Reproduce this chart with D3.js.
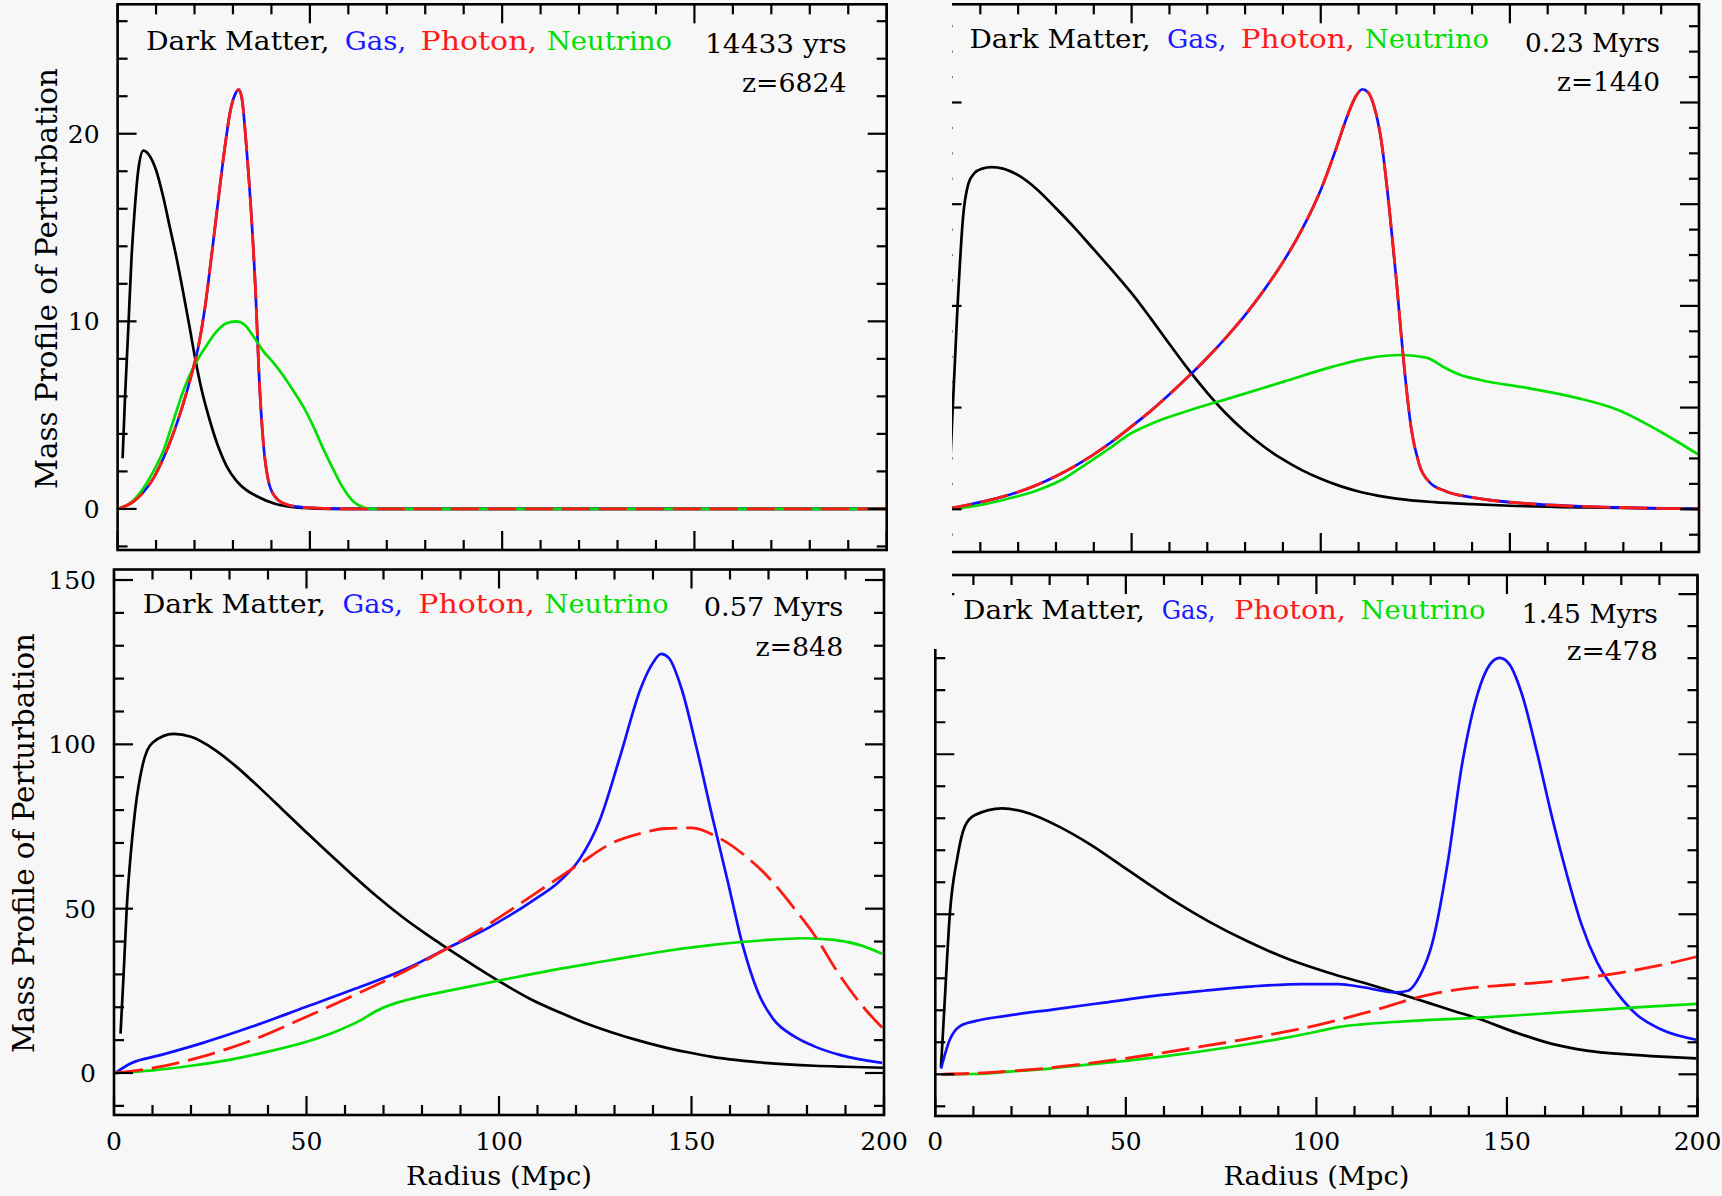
<!DOCTYPE html>
<html><head><meta charset="utf-8">
<script src="https://cdn.jsdelivr.net/npm/d3@7"></script>
<style>
html,body{margin:0;padding:0;background:#f7f7f7;}
svg{display:block;}
text{font-family:"DejaVu Serif","Liberation Serif",serif;}
</style></head><body>
<svg id="chart" width="1722" height="1196"></svg>
<script>
// ---------------- DATA ----------------
const seriesNames = ["Dark Matter,", "Gas,", "Photon,", "Neutrino"];
const timeLabels = ["14433 yrs", "0.23 Myrs", "0.57 Myrs", "1.45 Myrs"];
const redshiftLabels = ["z=6824", "z=1440", "z=848", "z=478"];
const xTickValues = [0, 50, 100, 150, 200];
const xTickLabels = ["0", "50", "100", "150", "200"];
const tlYTickLabels = ["0", "10", "20"];
const blYTickLabels = ["0", "50", "100", "150"];
const xTitle = "Radius (Mpc)";
const yTitle = "Mass Profile of Perturbation";

// Panel 1: 14433 yrs, z=6824  [radius (Mpc), mass profile]
const tlDarkMatter = [[1.3,2.7],[1.9,5.8],[2.8,9.7],[3.6,13.3],[4.5,16.1],[5.4,18.1],[6.7,19.1],[8.4,18.8],[10.1,18.0],[11.9,16.6],[13.6,15.0],[15.3,13.4],[17.1,11.5],[18.8,9.6],[20.1,8.1],[21.8,6.4],[24.0,4.7],[26.2,3.3],[28.3,2.3],[30.9,1.5],[33.5,1.0],[36.1,0.69],[40.5,0.3],[45.7,0.09],[51.7,0.02],[58.7,0],[200,0]];
const tlGas = [[0.6,0.04],[4.1,0.39],[6.7,0.89],[9.3,1.63],[11.9,2.7],[14.5,4.03],[17.1,5.63],[19.2,7.14],[21.0,8.65],[22.7,10.7],[24.4,13.45],[26.2,16.5],[27.9,19.3],[29.4,21.3],[30.8,22.2],[31.5,22.35],[32.3,21.9],[33.5,19.3],[34.8,15.6],[35.9,11.5],[36.8,7.05],[37.9,3.5],[39.2,1.5],[40.9,0.66],[43.1,0.3],[46.5,0.12],[51.7,0.04],[58.7,0],[200,0]];
const tlPhoton = [[0.6,0.04],[4.1,0.39],[6.7,0.89],[9.3,1.63],[11.9,2.7],[14.5,4.03],[17.1,5.63],[19.2,7.14],[21.0,8.65],[22.7,10.7],[24.4,13.45],[26.2,16.5],[27.9,19.3],[29.4,21.3],[30.8,22.2],[31.5,22.35],[32.3,21.9],[33.5,19.3],[34.8,15.6],[35.9,11.5],[36.8,7.05],[37.9,3.5],[39.2,1.5],[40.9,0.66],[43.1,0.3],[46.5,0.12],[51.7,0.04],[58.7,0],[200,0]];
const tlNeutrino = [[0.6,0.04],[4.1,0.45],[6.7,1.1],[9.3,2.0],[11.9,3.1],[14.5,4.7],[17.1,6.3],[20.1,7.7],[23.1,8.7],[25.7,9.45],[28.3,9.9],[30.9,10.0],[33.1,9.8],[35.3,9.2],[37.9,8.4],[40.5,7.8],[43.1,7.1],[45.7,6.3],[48.3,5.45],[50.9,4.4],[53.5,3.2],[56.1,2.1],[58.7,1.1],[61.3,0.4],[63.9,0.09],[66.5,0],[200,0]];

// Panel 2: 0.23 Myrs, z=1440
const trDarkMatter = [[2.0,8],[2.58,17.9],[3.88,38.5],[5.44,57.5],[6.87,64.1],[8.43,66.1],[10.5,67.0],[13,67.3],[16,67.0],[20,65.7],[25,62.9],[30,59.2],[35,55.3],[40,51.1],[45,46.9],[50,42.5],[55,37.6],[60,32.5],[65,27.5],[70,22.9],[75,18.8],[80,15.3],[85,12.3],[90,9.8],[95,7.7],[100,6.0],[105,4.6],[110,3.5],[115,2.7],[120,2.1],[130,1.4],[140,1.0],[150,0.7],[170,0.35],[200,0.08]];
const trGas = [[0.5,0],[5,0.6],[10,1.4],[15,2.3],[20,3.4],[25,4.8],[30,6.5],[35,8.5],[40,10.8],[45,13.4],[50,16.3],[55,19.3],[60,22.6],[65,26.1],[70,29.8],[75,33.8],[80,38.2],[85,43.1],[90,48.6],[95,55.0],[100,62.8],[104,70.8],[107,77.3],[109.5,81.5],[111,82.6],[112.5,82.0],[114,79.5],[116,72.5],[118,60],[120,45],[121.8,30],[123.9,16],[126,8.9],[128.8,5.3],[132.9,3.6],[141.2,2.2],[155,1.1],[169,0.57],[183,0.28],[200,0.08]];
const trPhoton = [[0.5,0],[5,0.6],[10,1.4],[15,2.3],[20,3.4],[25,4.8],[30,6.5],[35,8.5],[40,10.8],[45,13.4],[50,16.3],[55,19.3],[60,22.6],[65,26.1],[70,29.8],[75,33.8],[80,38.2],[85,43.1],[90,48.6],[95,55.0],[100,62.8],[104,70.8],[107,77.3],[109.5,81.5],[111,82.6],[112.5,82.0],[114,79.5],[116,72.5],[118,60],[120,45],[121.8,30],[123.9,16],[126,8.9],[128.8,5.3],[132.9,3.6],[141.2,2.2],[155,1.1],[169,0.57],[183,0.28],[200,0.08]];
const trNeutrino = [[0.5,0],[2.2,0.05],[12.3,1.18],[18.8,2.36],[25.3,3.8],[31.8,5.9],[37.0,8.39],[43.5,11.66],[50.0,15.0],[56.5,17.23],[65.6,19.53],[77.3,22.15],[90.2,25.1],[103.2,28.05],[112.3,29.69],[121.4,30.34],[127.9,29.82],[133.1,27.72],[137.0,26.41],[142.2,25.43],[155.2,23.79],[168.2,21.82],[178.6,19.53],[189.0,15.6],[200,10.68]];

// Panel 3: 0.57 Myrs, z=848
const blDarkMatter = [[1.7,12],[2.5,30],[3.3,50],[4.3,66],[5.5,80],[7.5,94],[10,100.5],[15.5,103.2],[20,102.3],[26,98.5],[32,93],[38,86.6],[44,79.9],[50,73.2],[56,66.6],[62,60.2],[68,54.0],[75,47.4],[81,42.3],[87,37.6],[94,32.3],[100.5,27.6],[108,22.6],[116,18.3],[122,15.4],[129,12.5],[135,10.3],[142,8.1],[149,6.3],[155,5.0],[162,3.9],[169,3.1],[182,2.2],[190,1.9],[200,1.6]];
const blGas = [[0.3,0],[4.3,2.9],[12.3,5.5],[22.9,9.1],[36.1,14.2],[49.4,19.9],[62.6,25.6],[75.9,31.7],[86.5,37.9],[97.1,44.1],[109,52.6],[115.6,58.2],[120.9,65.0],[126.2,77.0],[131.5,96.5],[136.8,117],[140.2,125.2],[142.1,127.5],[144.1,126.3],[147.4,117],[151.4,98.5],[155.4,78],[159.4,58.4],[163.3,38.9],[167.3,24.5],[171.3,16.3],[176.6,11.2],[181.9,8.1],[188.5,5.5],[199.5,3.1]];
const blPhoton = [[0.3,0],[9.6,1.4],[22.9,5.0],[36.1,10.1],[49.4,16.8],[62.6,23.8],[75.9,31.2],[86.5,37.9],[97.1,45.1],[109,54.3],[120.9,63.6],[128.9,69.7],[136.8,72.9],[143.4,74.4],[150.1,74.6],[156.7,71.8],[163.3,66.7],[170,59.5],[176.6,50.2],[181.9,42.0],[188.5,29.7],[195.1,19.4],[199.8,13.5]];
const blNeutrino = [[0.3,0],[10,0.8],[20,2.2],[30,4.0],[40,6.5],[50,9.5],[58,12.8],[64,16],[68,18.8],[72,20.8],[76,22.2],[89,25.5],[102,28.6],[115.6,31.7],[128.9,34.3],[142,36.9],[155,38.9],[168.6,40.4],[179,41.0],[187,40.5],[193.8,38.9],[199.5,36.3]];

// Panel 4: 1.45 Myrs, z=478
const brDarkMatter = [[1.5,2.3],[2.5,23.5],[3.8,49.9],[5.8,67.8],[7.7,77.3],[10.4,81.0],[17.5,83.1],[24.7,81.5],[32.6,77.3],[40.4,72.0],[50.8,63.6],[61.3,55.2],[71.7,47.8],[82.2,41.4],[92.6,36.0],[103,31.8],[113.5,28.2],[120.7,25.6],[129.2,22.4],[136,19.8],[142.2,17.5],[152.7,12.9],[161.8,9.5],[170.9,7.4],[181.4,6.2],[190.5,5.5],[199.7,5.0]];
const brGas = [[1.5,1.8],[3.8,10.8],[6.4,15.0],[10.4,16.6],[18.2,18.2],[31.2,20.3],[44.3,22.4],[57.4,24.5],[70.4,26.1],[83.5,27.5],[96.5,28.2],[105.7,28.2],[112.2,27.2],[120.7,25.6],[124,26.1],[127.2,30.9],[130.5,41.4],[134.4,65.7],[138.3,97.4],[142.2,118.5],[145.5,128],[148.1,130.1],[150.7,128],[154,118.5],[157.9,100.5],[161.8,80.5],[165.7,62.5],[169.6,46.7],[173.6,35.1],[178.8,25.6],[184,18.7],[190.5,14.0],[199.7,10.8]];
const brPhoton = [[1.5,0],[10,0.3],[20,1.0],[30,2.0],[40,3.4],[50,5.0],[60,6.8],[70,8.7],[80,10.7],[90,12.9],[100,15.3],[110,18.3],[118,21.0],[124,23.2],[130,25.0],[140,26.9],[150,27.9],[160,28.8],[170,30.1],[180,31.8],[190,34.0],[200,36.8]];
const brNeutrino = [[1.5,0],[10,0.1],[20,0.9],[30,1.8],[40,3.0],[50,4.2],[60,5.6],[70,7.2],[80,9.0],[90,11.0],[100,13.3],[106,14.8],[112,15.6],[121,16.4],[130,17.0],[143,17.7],[155,18.6],[170,19.8],[185,21.0],[200,22.0]];

// ---------------- STYLE / LAYOUT ----------------
const seriesColors = ["#000000", "#1010ff", "#ff1a10", "#00e000"];
const textColors = ["#000000", "#1a1aff", "#ff1a1a", "#00e000"];

const panels = [
  {xr:[117.6,886.7], yd:[-2.19,26.9], yr:[550,4.3], yMajor:10, yMinor:2,
   yLabels:tlYTickLabels, xLabels:false, clip:null,
   series:[tlDarkMatter, tlGas, tlPhoton, tlNeutrino],
   legendX:[[146,329.4],[344.8,406.3],[420.5,537],[546.8,672]], legendY:50,
   timeX:[705,846.6], timeY:53, zX:[742,846.6], zY:92, yTitle:{x:57,y:278.6,len:421}},
  {xr:[942.5,1699], yd:[-8.4,99.31], yr:[552,4.3], yMajor:20, yMinor:5,
   yLabels:null, xLabels:false, clip:"rect",
   series:[trDarkMatter, trGas, trPhoton, trNeutrino],
   legendX:[[969.5,1150.7],[1167,1226.5],[1240.7,1355],[1364.8,1489]], legendY:48.2,
   timeX:[1525,1660], timeY:51.8, zX:[1557,1660], zY:91, yTitle:null},
  {xr:[114,884], yd:[-12.78,153.2], yr:[1115,569.5], yMajor:50, yMinor:10,
   yLabels:blYTickLabels, xLabels:true, clip:null,
   series:[blDarkMatter, blGas, blPhoton, blNeutrino],
   legendX:[[142.7,326],[342.6,403],[418.3,534.7],[544.6,668.7]], legendY:613.4,
   timeX:[703.8,843.3], timeY:615.7, zX:[755.4,843.3], zY:655.6, yTitle:{x:34.4,y:843,len:420}},
  {xr:[935.3,1697.5], yd:[-13.03,156.0], yr:[1116,575], yMajor:50, yMinor:10,
   yLabels:null, xLabels:true, clip:"poly",
   series:[brDarkMatter, brGas, brPhoton, brNeutrino],
   legendX:[[963,1145],[1161.7,1215.5],[1234,1346],[1360.4,1485.6]], legendY:619,
   timeX:[1521.8,1658], timeY:622.5, zX:[1566.8,1658], zY:660.3, yTitle:null}
];

const svg = d3.select("#chart");
svg.append("rect").attr("width",1722).attr("height",1196).attr("fill","#f7f7f7");
const defs = svg.append("defs");
defs.append("clipPath").attr("id","clipRect")
  .append("rect").attr("x",952).attr("y",0).attr("width",770).attr("height",560);
defs.append("clipPath").attr("id","clipPoly")
  .append("polygon").attr("points","952,560 1722,560 1722,1196 900,1196 900,649 952,649");

const MAJ = 19, MIN = 10;
const drawOrder = [0, 1, 3, 2];

panels.forEach((p, pi) => {
  const x = d3.scaleLinear().domain([0,200]).range(p.xr);
  const y = d3.scaleLinear().domain(p.yd).range(p.yr);
  const g = svg.append("g");
  if (p.clip === "rect") g.attr("clip-path","url(#clipRect)");
  if (p.clip === "poly") g.attr("clip-path","url(#clipPoly)");
  const L = p.xr[0], R = p.xr[1], T = p.yr[1], B = p.yr[0];

  // curves
  const line = d3.line().x(d => x(d[0])).y(d => y(d[1])).curve(d3.curveMonotoneX);
  drawOrder.forEach(i => {
    const path = g.append("path").datum(p.series[i])
      .attr("d", line).attr("fill","none")
      .attr("stroke", seriesColors[i]).attr("stroke-width", i === 2 ? 2.8 : 2.7)
      .attr("stroke-linejoin","round");
    if (i === 2) path.attr("stroke-dasharray","28,9");
  });

  // ticks
  const tg = g.append("g").attr("stroke","#000").attr("stroke-width",2.2);
  d3.range(0, 201, 10).forEach(v => {
    const len = v % 50 === 0 ? MAJ : MIN;
    tg.append("line").attr("x1",x(v)).attr("x2",x(v)).attr("y1",B).attr("y2",B-len);
    tg.append("line").attr("x1",x(v)).attr("x2",x(v)).attr("y1",T).attr("y2",T+len);
  });
  const yStart = Math.ceil(p.yd[0]/p.yMinor)*p.yMinor;
  d3.range(yStart, p.yd[1], p.yMinor).forEach(v => {
    const r = Math.round(v*1000)/1000;
    const isMaj = Math.abs(r % p.yMajor) < 1e-6;
    const len = isMaj ? MAJ : MIN;
    tg.append("line").attr("x1",L).attr("x2",L+len).attr("y1",y(r)).attr("y2",y(r));
    tg.append("line").attr("x1",R).attr("x2",R-len).attr("y1",y(r)).attr("y2",y(r));
  });

  // frame
  g.append("rect").attr("x",L).attr("y",T).attr("width",R-L).attr("height",B-T)
    .attr("fill","none").attr("stroke","#000").attr("stroke-width",2.6);

  // y tick labels
  if (p.yLabels) {
    p.yLabels.forEach((lab, k) => {
      const v = k * p.yMajor;
      g.append("text").attr("x", L-18).attr("y", y(v)+9)
        .attr("text-anchor","end").attr("font-size",25).attr("fill","#000").text(lab);
    });
  }
  // x tick labels + title
  if (p.xLabels) {
    xTickValues.forEach((v,k) => {
      g.append("text").attr("x", x(v)).attr("y", 1150)
        .attr("text-anchor","middle").attr("font-size",25).attr("fill","#000").text(xTickLabels[k]);
    });
    const cx = (L+R)/2;
    g.append("text").attr("x", cx-93).attr("y", 1185).attr("font-size",26)
      .attr("textLength",186).attr("lengthAdjust","spacingAndGlyphs").attr("fill","#000").text(xTitle);
  }
  // y title
  if (p.yTitle) {
    g.append("text").attr("transform",`translate(${p.yTitle.x},${p.yTitle.y}) rotate(-90)`)
      .attr("x", -p.yTitle.len/2).attr("y",0).attr("font-size",30)
      .attr("textLength",p.yTitle.len).attr("lengthAdjust","spacingAndGlyphs")
      .attr("fill","#000").text(yTitle);
  }

  // legend words
  seriesNames.forEach((nm, i) => {
    const [a,b] = p.legendX[i];
    svg.append("text").attr("x",a).attr("y",p.legendY).attr("font-size",26)
      .attr("textLength",b-a).attr("lengthAdjust","spacingAndGlyphs")
      .attr("fill",textColors[i]).text(nm);
  });
  svg.append("text").attr("x",p.timeX[0]).attr("y",p.timeY).attr("font-size",26)
    .attr("textLength",p.timeX[1]-p.timeX[0]).attr("lengthAdjust","spacingAndGlyphs")
    .attr("fill","#000").text(timeLabels[pi]);
  svg.append("text").attr("x",p.zX[0]).attr("y",p.zY).attr("font-size",26)
    .attr("textLength",p.zX[1]-p.zX[0]).attr("lengthAdjust","spacingAndGlyphs")
    .attr("fill","#000").text(redshiftLabels[pi]);
});
</script></body></html>
